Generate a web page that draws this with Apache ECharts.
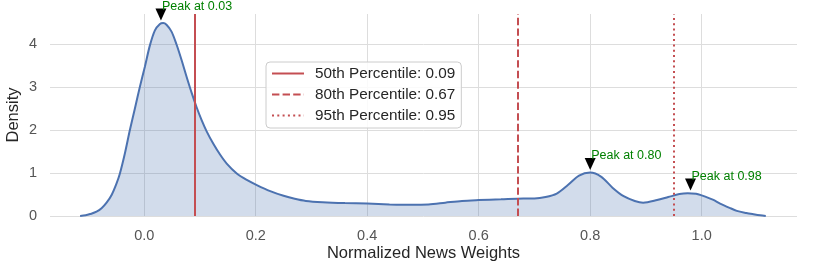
<!DOCTYPE html>
<html>
<head>
<meta charset="utf-8">
<script src="https://cdn.jsdelivr.net/npm/echarts@6/dist/echarts.min.js"></script>
<style>
html,body{margin:0;padding:0;background:#fff;}
#chart{width:814px;height:271px;}
</style>
</head>
<body>
<div id="chart"></div>
<script>
// KDE curve
const weights = [-0.115, -0.105, -0.097, -0.0855, -0.0765, -0.0675, -0.0585, -0.0496, -0.0436, -0.0346, -0.0257, -0.0167, -0.0077, 0.0013, 0.0102, 0.0192, 0.0282, 0.034, 0.040, 0.049, 0.058, 0.067, 0.076, 0.085, 0.094, 0.103, 0.112, 0.124, 0.136, 0.148, 0.166, 0.184, 0.202, 0.226, 0.25, 0.27, 0.29, 0.32, 0.36, 0.40, 0.44, 0.48, 0.51, 0.54, 0.57, 0.60, 0.64, 0.68, 0.70, 0.72, 0.74, 0.76, 0.78, 0.80, 0.82, 0.84, 0.86, 0.88, 0.895, 0.92, 0.94, 0.96, 0.975, 0.99, 1.00, 1.02, 1.033, 1.05, 1.063, 1.08, 1.093, 1.105, 1.115];
const density = [0.0, 0.015, 0.045, 0.10, 0.18, 0.31, 0.49, 0.76, 0.99, 1.46, 2.0, 2.50, 3.01, 3.48, 3.97, 4.32, 4.47, 4.49, 4.45, 4.29, 3.99, 3.63, 3.24, 2.87, 2.53, 2.23, 1.97, 1.68, 1.43, 1.22, 0.99, 0.84, 0.72, 0.58, 0.47, 0.40, 0.35, 0.32, 0.30, 0.29, 0.27, 0.26, 0.27, 0.31, 0.35, 0.37, 0.39, 0.41, 0.41, 0.44, 0.52, 0.72, 0.94, 1.01, 0.91, 0.66, 0.46, 0.35, 0.31, 0.37, 0.44, 0.51, 0.53, 0.52, 0.48, 0.38, 0.29, 0.19, 0.12, 0.07, 0.04, 0.015, 0.0];

// Percentile lines
const pctNames = ['50th Percentile: 0.09', '80th Percentile: 0.67', '95th Percentile: 0.95'];
const pctValues = [0.09, 0.67, 0.95];
const pctTypes = ['solid', [7.4, 3.2], [2, 3.3]];

// Peaks
const peakX = [0.03, 0.80, 0.98];
const peakY = [4.49, 1.01, 0.53];

// Ticks
const xTicks = [0.0, 0.2, 0.4, 0.6, 0.8, 1.0];
const yTicks = [0, 1, 2, 3, 4];

const red = '#c44e52';
const blue = '#4c72b0';
const font = 'Liberation Sans, Arial, sans-serif';

const series = [{
  type: 'line',
  name: 'kde',
  data: weights.map((x, i) => [x, density[i]]),
  smooth: 0.3,
  symbol: 'none',
  lineStyle: { color: blue, width: 2 },
  areaStyle: { color: blue, opacity: 0.25, origin: 'start' },
  z: 3
}];

pctNames.forEach((n, i) => {
  series.push({
    type: 'line',
    name: n,
    data: [],
    symbol: 'none',
    showSymbol: false,
    color: red,
    lineStyle: { color: red, width: 2, type: pctTypes[i] },
    markLine: {
      silent: true,
      symbol: ['none', 'none'],
      label: { show: false },
      lineStyle: { color: red, width: 2, type: pctTypes[i] },
      emphasis: { disabled: true },
      data: [{ xAxis: pctValues[i] }]
    },
    z: 4
  });
});

series.push({
  type: 'scatter',
  name: 'peaks',
  data: peakX.map((x, i) => [x, peakY[i]]),
  symbol: 'path://M0,0 L10,0 L5,11 Z',
  symbolSize: [11, 12],
  symbolOffset: [0, -8.6],
  itemStyle: { color: '#000', opacity: 1 },
  clip: false,
  label: {
    show: true,
    position: [6.5, -2],
    align: 'left',
    verticalAlign: 'middle',
    color: '#008000',
    fontSize: 12.5,
    fontFamily: font,
    formatter: p => 'Peak at ' + p.value[0].toFixed(2)
  },
  z: 6
});

const chart = echarts.init(document.getElementById('chart'), null, { renderer: 'canvas' });
chart.setOption({
  animation: false,
  backgroundColor: '#fff',
  grid: { left: 50, right: 17, top: 14, bottom: 55, containLabel: false, outerBoundsMode: 'none' },
  legend: {
    data: pctNames,
    orient: 'vertical',
    left: 266,
    top: 62,
    itemWidth: 32,
    itemHeight: 16,
    itemGap: 6,
    padding: [4, 6, 5, 5],
    borderColor: '#cccccc',
    borderWidth: 1,
    borderRadius: 4,
    backgroundColor: 'rgba(255,255,255,0.85)',
    itemStyle: { opacity: 0 },
    textStyle: { fontSize: 15.3, color: '#262626', fontFamily: font, padding: [0, 0, 0, 6] }
  },
  xAxis: {
    type: 'value',
    min: -0.169,
    max: 1.171,
    name: 'Normalized News Weights',
    nameLocation: 'middle',
    nameGap: 29,
    nameMoveOverlap: false,
    nameTextStyle: { fontSize: 16.5, color: '#262626', fontFamily: font },
    axisLine: { show: false },
    axisTick: { show: false, customValues: xTicks },
    axisLabel: { customValues: xTicks, formatter: v => v.toFixed(1), fontSize: 14.5, color: '#555', fontFamily: font, margin: 12 },
    splitLine: { show: true, lineStyle: { color: '#dddddd', width: 1 } }
  },
  yAxis: {
    type: 'value',
    min: 0,
    max: 4.7,
    name: 'Density',
    nameLocation: 'middle',
    nameGap: 28,
    nameMoveOverlap: false,
    nameTextStyle: { fontSize: 16.5, color: '#262626', fontFamily: font },
    axisLine: { show: false },
    axisTick: { show: false, customValues: yTicks },
    axisLabel: { customValues: yTicks, formatter: v => String(v), fontSize: 14.5, color: '#555', fontFamily: font, margin: 13 },
    splitLine: { show: true, lineStyle: { color: '#dddddd', width: 1 } }
  },
  series: series
});
</script>
</body>
</html>
